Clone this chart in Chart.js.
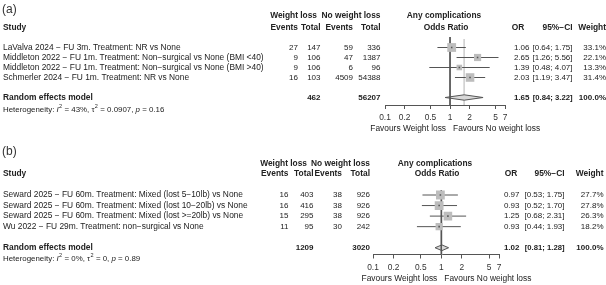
<!DOCTYPE html>
<html>
<head>
<meta charset="utf-8">
<script src="https://cdn.jsdelivr.net/npm/chart.js@4.4.0/dist/chart.umd.min.js"></script>
<style>
  html, body { margin: 0; padding: 0; background: #fff; }
  #wrap { position: relative; width: 606px; height: 285px; overflow: hidden; }
  canvas { position: absolute; left: 0; }
</style>
</head>
<body>
<div id="wrap">
  <canvas id="forestA" width="606" height="140" style="top:0"></canvas>
  <canvas id="forestB" width="606" height="145" style="top:140px"></canvas>
</div>
<script>
const FONT = '"Liberation Sans", Arial, Helvetica, sans-serif';
const TXT = '#222';
const FS = 8.4;   // labels
const FN = 8;     // numbers

// x axis ticks (odds ratio, log scale)
const tickVals = [0.1, 0.2, 0.5, 1, 2, 5, 7];

// panel (a)
const studiesA = [
    'LaValva 2024 \u2212 FU 3m. Treatment: NR vs None',
    'Middleton 2022 \u2212 FU 1m. Treatment: Non\u2212surgical vs None (BMI <40)',
    'Middleton 2022 \u2212 FU 1m. Treatment: Non\u2212surgical vs None (BMI >40)',
    'Schmerler 2024 \u2212 FU 1m. Treatment: NR vs None'
];
const eventsWlA = [27, 9, 9, 16];
const totalWlA = [147, 106, 106, 103];
const eventsNoA = [59, 47, 6, 4509];
const totalNoA = [336, 1387, 96, 54388];
const orA = [1.06, 2.65, 1.39, 2.03];
const lowerA = [0.64, 1.26, 0.48, 1.19];
const upperA = [1.75, 5.56, 4.07, 3.47];
const weightA = [33.1, 22.1, 13.3, 31.4];
const pooledA = [1.65, 0.84, 3.22];   // OR, lower, upper
const totalsA = [462, 56207];
const hetA = ['43%', '0.0907', '0.16']; // I2, tau2, p

// panel (b)
const studiesB = [
    'Seward 2025 \u2212 FU 60m. Treatment: Mixed (lost 5\u221210lb) vs None',
    'Seward 2025 \u2212 FU 60m. Treatment: Mixed (lost 10\u221220lb) vs None',
    'Seward 2025 \u2212 FU 60m. Treatment: Mixed (lost >=20lb) vs None',
    'Wu 2022 \u2212 FU 29m. Treatment: non\u2212surgical vs None'
];
const eventsWlB = [16, 16, 15, 11];
const totalWlB = [403, 416, 295, 95];
const eventsNoB = [38, 38, 38, 30];
const totalNoB = [926, 926, 926, 242];
const orB = [0.97, 0.93, 1.25, 0.93];
const lowerB = [0.53, 0.52, 0.68, 0.44];
const upperB = [1.75, 1.70, 2.31, 1.93];
const weightB = [27.7, 27.8, 26.3, 18.2];
const pooledB = [1.02, 0.81, 1.28];
const totalsB = [1209, 3020];
const hetB = ['0%', '0', '0.89'];

// layout of each panel (pixels inside its canvas)
const layA = {
    tag: '(a)', tagY: 10, groupY: 16, headY: 27.5, hetY: 109.5, favY: 128.5,
    left: 385, right: 505, top: 37, height: 140, axisH: 35, yMin: -1.05, yMax: 5.75,
    col: { evWl: 298, totWl: 320.5, evNo: 353, totNo: 380.5, or: 529.5, ci: 572.5, wt: 606 },
    head: { grpWl: 317, anyC: 444, oddsR: 446, orC: 518 }
};
const layB = {
    tag: '(b)', tagY: 11.5, groupY: 24, headY: 34, hetY: 118.5, favY: 139,
    left: 373, right: 499, top: 50, height: 145, axisH: 30.5, yMin: -0.474, yMax: 5.64,
    col: { evWl: 288.5, totWl: 313.5, evNo: 342, totNo: 370, or: 519.5, ci: 564.5, wt: 603.5 },
    head: { grpWl: 307, anyC: 435, oddsR: 437, orC: 511 }
};

function txt(ctx, s, x, y, align, bold, size) {
    ctx.font = (bold ? 'bold ' : '') + (size || FS) + 'px ' + FONT;
    ctx.textAlign = align || 'left';
    ctx.textBaseline = 'middle';
    ctx.fillStyle = TXT;
    ctx.fillText(s, x, y);
}

// Heterogeneity line with italic I, p and superscripts
function drawHet(ctx, het, x, y) {
    let parts = [
        ['Heterogeneity: ', ''], ['I', 'italic '], ['2', 'sup'], [' = ' + het[0] + ', ', ''],
        ['\u03c4', ''], ['2', 'sup'], [' = ' + het[1] + ', ', ''], ['p', 'italic '], [' = ' + het[2], '']
    ];
    ctx.textAlign = 'left';
    ctx.textBaseline = 'middle';
    ctx.fillStyle = TXT;
    parts.forEach(([s, st]) => {
        if (st === 'sup') {
            ctx.font = '5.5px ' + FONT;
            ctx.fillText(s, x + 0.3, y - 2.8);
        } else {
            ctx.font = st + '7.9px ' + FONT;
            ctx.fillText(s, x, y);
        }
        x += ctx.measureText(s).width + (st === 'sup' ? 0.5 : 0);
    });
}

function makeForest(id, d, lay) {
    const poolRow = 5;
    const maxW = Math.max(...d.weight);
    const pts = d.or.map((v, i) => ({ x: v, y: i }));
    const [est, lo, hi] = d.pooled;
    let datasets = [];

    // centre dots and weighted squares
    datasets.push({ data: pts, pointStyle: 'rect', pointRadius: 1.1, backgroundColor: '#555', borderWidth: 0, order: 0 });
    datasets.push({
        data: pts, pointStyle: 'rect', backgroundColor: '#bdbdbd', borderWidth: 0, order: 1,
        pointRadius: d.weight.map(w => 8.8 * Math.sqrt(w / maxW) / Math.SQRT2)
    });
    // line of no effect
    datasets.push({ data: [{ x: 1, y: lay.yMin }, { x: 1, y: lay.yMax }], showLine: true, borderColor: '#555', borderWidth: 1, pointRadius: 0, order: 2 });
    // pooled diamond
    datasets.push({
        data: [{ x: lo, y: poolRow }, { x: est, y: poolRow - 0.27 }, { x: hi, y: poolRow }, { x: est, y: poolRow + 0.27 }, { x: lo, y: poolRow }],
        showLine: true, fill: 'shape', backgroundColor: '#d8d8d8', borderColor: '#555', borderWidth: 1, pointRadius: 0, order: 3
    });
    // confidence intervals
    d.lower.forEach((l, i) => {
        datasets.push({ data: [{ x: l, y: i }, { x: d.upper[i], y: i }], showLine: true, borderColor: '#555', borderWidth: 1, pointRadius: 0, order: 4 });
    });
    // pooled estimate line
    datasets.push({ data: [{ x: est, y: lay.yMin + 0.2 }, { x: est, y: lay.yMax }], showLine: true, borderColor: '#d2d2d2', borderWidth: 1, pointRadius: 0, order: 6 });

    const textPlugin = {
        id: 'forestText',
        afterDraw(chart) {
            const ctx = chart.ctx;
            const ys = chart.scales.y;
            const xs = chart.scales.x;
            const c = lay.col, h = lay.head;
            ctx.save();
            // panel tag
            ctx.font = '12px ' + FONT;
            ctx.textAlign = 'left';
            ctx.textBaseline = 'middle';
            ctx.fillStyle = '#333';
            ctx.fillText(lay.tag, 2, lay.tagY);
            // headers
            txt(ctx, 'Weight loss', h.grpWl, lay.groupY, 'right', true);
            txt(ctx, 'No weight loss', c.totNo, lay.groupY, 'right', true);
            txt(ctx, 'Any complications', h.anyC, lay.groupY, 'center', true);
            txt(ctx, 'Study', 3, lay.headY, 'left', true);
            txt(ctx, 'Events', c.evWl, lay.headY, 'right', true);
            txt(ctx, 'Total', c.totWl, lay.headY, 'right', true);
            txt(ctx, 'Events', c.evNo, lay.headY, 'right', true);
            txt(ctx, 'Total', c.totNo, lay.headY, 'right', true);
            txt(ctx, 'Odds Ratio', h.oddsR, lay.headY, 'center', true);
            txt(ctx, 'OR', h.orC, lay.headY, 'center', true);
            txt(ctx, '95%\u2212CI', c.ci, lay.headY, 'right', true);
            txt(ctx, 'Weight', c.wt, lay.headY, 'right', true);
            // study rows
            d.studies.forEach((s, i) => {
                const y = ys.getPixelForValue(i);
                txt(ctx, s, 3, y);
                txt(ctx, String(d.evWl[i]), c.evWl, y, 'right', false, FN);
                txt(ctx, String(d.totWl[i]), c.totWl, y, 'right', false, FN);
                txt(ctx, String(d.evNo[i]), c.evNo, y, 'right', false, FN);
                txt(ctx, String(d.totNo[i]), c.totNo, y, 'right', false, FN);
                txt(ctx, d.or[i].toFixed(2), c.or, y, 'right', false, FN);
                txt(ctx, '[' + d.lower[i].toFixed(2) + '; ' + d.upper[i].toFixed(2) + ']', c.ci, y, 'right', false, FN);
                txt(ctx, d.weight[i].toFixed(1) + '%', c.wt, y, 'right', false, FN);
            });
            // pooled row
            const yp = ys.getPixelForValue(poolRow);
            txt(ctx, 'Random effects model', 3, yp, 'left', true);
            txt(ctx, String(d.totals[0]), c.totWl, yp, 'right', true, FN);
            txt(ctx, String(d.totals[1]), c.totNo, yp, 'right', true, FN);
            txt(ctx, est.toFixed(2), c.or, yp, 'right', true, FN);
            txt(ctx, '[' + lo.toFixed(2) + '; ' + hi.toFixed(2) + ']', c.ci, yp, 'right', true, 7.7);
            txt(ctx, '100.0%', c.wt, yp, 'right', true, FN);
            drawHet(ctx, d.het, 3, lay.hetY);
            // favours labels
            const x1 = xs.getPixelForValue(1);
            txt(ctx, 'Favours Weight loss', x1 - 4, lay.favY, 'right');
            txt(ctx, 'Favours No weight loss', x1 + 3, lay.favY, 'left');
            ctx.restore();
        }
    };

    return new Chart(document.getElementById(id), {
        type: 'scatter',
        data: { datasets: datasets },
        options: {
            responsive: false,
            animation: false,
            devicePixelRatio: 1,
            events: [],
            layout: { padding: { left: lay.left, right: 606 - lay.right, top: lay.top, bottom: 0 } },
            plugins: { legend: { display: false }, tooltip: { enabled: false } },
            scales: {
                x: {
                    type: 'logarithmic', min: 0.1, max: 7,
                    afterBuildTicks: s => { s.ticks = tickVals.map(v => ({ value: v })); },
                    afterFit: s => { s.height = lay.axisH; },
                    grid: { drawOnChartArea: false, drawTicks: true, tickLength: 4, color: '#555', lineWidth: 1 },
                    border: { display: true, color: '#555', width: 1 },
                    ticks: {
                        autoSkip: false, maxRotation: 0, padding: 4, color: '#333',
                        font: { family: FONT, size: FS },
                        callback: v => String(v)
                    }
                },
                y: { type: 'linear', reverse: true, min: lay.yMin, max: lay.yMax, display: false }
            }
        },
        plugins: [textPlugin]
    });
}

makeForest('forestA', {
    studies: studiesA, evWl: eventsWlA, totWl: totalWlA, evNo: eventsNoA, totNo: totalNoA,
    or: orA, lower: lowerA, upper: upperA, weight: weightA, pooled: pooledA, totals: totalsA, het: hetA
}, layA);
makeForest('forestB', {
    studies: studiesB, evWl: eventsWlB, totWl: totalWlB, evNo: eventsNoB, totNo: totalNoB,
    or: orB, lower: lowerB, upper: upperB, weight: weightB, pooled: pooledB, totals: totalsB, het: hetB
}, layB);
</script>
</body>
</html>
